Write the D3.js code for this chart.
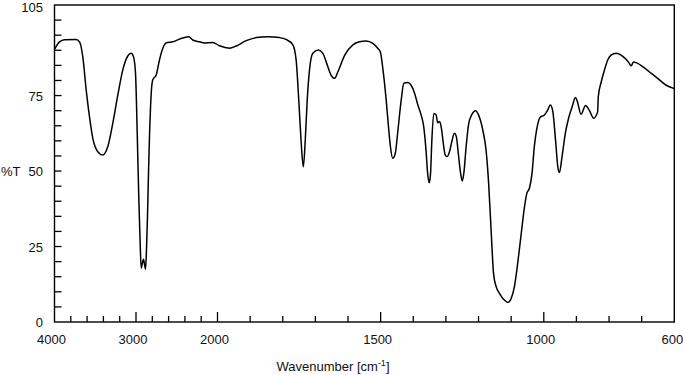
<!DOCTYPE html>
<html>
<head>
<meta charset="utf-8">
<script src="https://cdn.jsdelivr.net/npm/d3@7"></script>
<style>
  body { margin: 0; background: #fff; }
  text { font-family: "Liberation Sans", Arial, sans-serif; font-size: 13px; fill: #111; }
</style>
</head>
<body>
<div id="chart"></div>
<script>
// spectrum (wavenumber cm-1, %T)
const wavenumbers = [
  4000, 3939, 3877, 3734, 3693, 3653, 3611, 3571, 3530, 3469, 3407, 3346, 3285, 3223, 3162,
  3101, 3059, 3031, 3006, 2985, 2965, 2950, 2936, 2922, 2908, 2895, 2883, 2870, 2859, 2846,
  2834, 2822, 2810, 2794, 2752, 2712, 2671, 2630, 2548, 2466, 2352, 2303, 2221, 2160, 2058,
  1994, 1963, 1943, 1912, 1881, 1846, 1810, 1790, 1769, 1759, 1751, 1744, 1737, 1731, 1725,
  1718, 1708, 1691, 1677, 1662, 1652, 1641, 1631, 1610, 1585, 1565, 1544, 1524, 1509, 1501,
  1494, 1483, 1476, 1470, 1463, 1455, 1448, 1437, 1429, 1417, 1407, 1396, 1386, 1376, 1368,
  1361, 1356, 1351, 1347, 1343, 1337, 1330, 1325, 1319, 1313, 1308, 1302, 1296, 1289, 1282,
  1274, 1268, 1262, 1255, 1250, 1245, 1238, 1230, 1221, 1209, 1200, 1187, 1177, 1169, 1161,
  1154, 1146, 1136, 1121, 1110, 1100, 1090, 1080, 1069, 1059, 1052, 1044, 1036, 1029, 1022,
  1011, 998, 988, 980, 973, 964, 957, 952, 944, 934, 924, 913, 903, 897, 886,
  872, 860, 847, 835, 833, 824, 814, 804, 794, 778, 763, 748, 740, 732, 725,
  717, 697, 677, 651, 626, 600
];
const transmittance = [
  90.3, 92.8, 93.5, 93.6, 92.8, 87.9, 76.8, 68.0, 60.8, 56.4, 55.3, 58.1, 65.8, 75.2, 83.5,
  88.1, 89.0, 87.9, 82.4, 62.5, 40.4, 27.0, 17.8, 19.5, 20.8, 19.0, 17.5, 25.0, 35.0, 50.0,
  62.0, 71.0, 77.0, 80.2, 81.8, 86.8, 90.7, 92.4, 92.8, 93.7, 94.5, 93.4, 92.8, 92.4, 92.6,
  91.5, 90.7, 91.4, 93.2, 94.2, 94.5, 94.2, 93.6, 91.8, 86.8, 73.6, 60.3, 51.4, 60.3, 73.6,
  83.5, 89.0, 90.1, 89.0, 84.6, 81.8, 80.7, 82.9, 88.4, 91.8, 92.8, 93.1, 92.3, 90.7, 89.5,
  84.6, 73.5, 64.7, 58.1, 54.2, 55.9, 62.5, 73.5, 79.1, 79.3, 78.5, 75.8, 71.9, 68.6, 64.7,
  57.0, 49.3, 46.1, 49.3, 60.3, 69.1, 68.6, 66.0, 66.4, 63.6, 59.2, 55.3, 54.8, 56.4, 59.7,
  62.5, 61.4, 55.9, 49.3, 46.7, 49.3, 58.1, 65.8, 68.6, 70.0, 68.6, 63.6, 57.0, 45.9, 29.4,
  16.1, 11.7, 9.5, 7.3, 6.5, 7.8, 11.7, 19.4, 29.4, 38.2, 42.6, 44.3, 49.3, 58.1, 63.6,
  67.8, 68.6, 70.2, 71.9, 70.2, 60.3, 51.4, 49.5, 54.8, 62.5, 67.5, 71.3, 74.4, 73.0, 68.8,
  71.7, 70.0, 67.5, 69.6, 74.6, 79.5, 83.5, 86.8, 88.4, 89.0, 88.4, 87.0, 86.0, 84.9, 86.1,
  85.9, 84.6, 82.9, 80.7, 78.5, 77.3
];

const xMajorTicks = [3000, 2000, 1500, 1000];
const xMinorTicks = [3800, 3600, 3400, 3200, 2800, 2600, 2400, 2200,
  1900, 1800, 1700, 1600, 1400, 1300, 1200, 1100, 900, 800, 700];
const xLabels = [4000, 3000, 2000, 1500, 1000, 600];
const yTicks = [5, 10, 15, 20, 25, 30, 35, 40, 45, 50, 55, 60, 65, 70, 75, 80, 85, 90, 95, 100];
const yLabels = [0, 25, 50, 75, 105];

const data = wavenumbers.map((w, i) => ({ wn: w, t: transmittance[i] }));

const svgWidth = 683;
const svgHeight = 375;

const svg = d3.select("#chart")
    .append("svg")
    .attr("width", svgWidth)
    .attr("height", svgHeight);

// IR convention: expanded scale below 2000 cm-1
const xScale = d3.scaleLinear()
    .domain([4000, 2000, 600])
    .range([54.5, 217.5, 674.3]);

const yScale = d3.scaleLinear()
    .domain([0, 105])
    .range([322, 5]);

// frame
svg.append("rect")
    .attr("x", xScale(4000))
    .attr("y", yScale(105))
    .attr("width", xScale(600) - xScale(4000))
    .attr("height", yScale(0) - yScale(105))
    .attr("fill", "none")
    .attr("stroke", "#000")
    .attr("stroke-width", 1.4);

// x ticks, drawn inward
svg.selectAll("line.xmajor")
    .data(xMajorTicks)
    .enter().append("line")
    .attr("class", "xmajor")
    .attr("x1", d => xScale(d))
    .attr("x2", d => xScale(d))
    .attr("y1", yScale(0))
    .attr("y2", yScale(0) - 10)
    .attr("stroke", "#000")
    .attr("stroke-width", 1.3);

svg.selectAll("line.xminor")
    .data(xMinorTicks)
    .enter().append("line")
    .attr("class", "xminor")
    .attr("x1", d => xScale(d))
    .attr("x2", d => xScale(d))
    .attr("y1", yScale(0))
    .attr("y2", yScale(0) - 6)
    .attr("stroke", "#000")
    .attr("stroke-width", 1.3);

svg.selectAll("line.ytick")
    .data(yTicks)
    .enter().append("line")
    .attr("class", "ytick")
    .attr("x1", xScale(4000))
    .attr("x2", xScale(4000) + 7)
    .attr("y1", d => yScale(d))
    .attr("y2", d => yScale(d))
    .attr("stroke", "#000")
    .attr("stroke-width", 1.3);

// tick labels
svg.selectAll("text.xlabel")
    .data(xLabels)
    .enter().append("text")
    .attr("class", "xlabel")
    .attr("x", d => xScale(d) - (d === 600 ? 2 : 3))
    .attr("y", 344)
    .attr("text-anchor", "middle")
    .text(d => d);

svg.selectAll("text.ylabel")
    .data(yLabels)
    .enter().append("text")
    .attr("class", "ylabel")
    .attr("x", 43)
    .attr("y", d => Math.max(yScale(d) + 5, 12))
    .attr("text-anchor", "end")
    .text(d => d);

// axis titles
const xTitle = svg.append("text")
    .attr("x", 333)
    .attr("y", 371)
    .attr("text-anchor", "middle");
xTitle.append("tspan").text("Wavenumber [cm");
xTitle.append("tspan")
    .attr("dy", -5)
    .style("font-size", "9px")
    .text("-1");
xTitle.append("tspan")
    .attr("dy", 5)
    .text("]");

svg.append("text")
    .attr("x", 1)
    .attr("y", 176)
    .attr("text-anchor", "start")
    .text("%T");

// spectrum
const line = d3.line()
    .x(d => xScale(d.wn))
    .y(d => yScale(d.t))
    .curve(d3.curveMonotoneX);

svg.append("path")
    .datum(data)
    .attr("d", line)
    .attr("fill", "none")
    .attr("stroke", "#000")
    .attr("stroke-width", 1.5)
    .attr("stroke-linejoin", "round");
</script>
</body>
</html>
